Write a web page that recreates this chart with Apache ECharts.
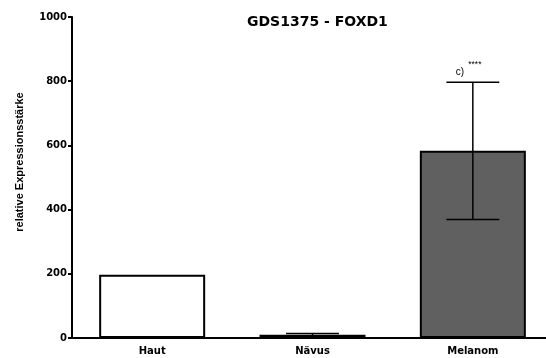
<!DOCTYPE html>
<html>
<head>
<meta charset="utf-8">
<script src="https://cdn.jsdelivr.net/npm/echarts@6/dist/echarts.min.js"></script>
<style>
  html, body { margin: 0; padding: 0; background: #fff; }
  #chart { width: 546px; height: 358px; }
</style>
</head>
<body>
<div id="chart"></div>
<script>
// groups and mean expression with SD
const categories = ['Haut', 'Nävus', 'Melanom'];
const means = [197, 10, 583];
const sds = [0, 4, 214];
const fills = ['#ffffff', '#9a9a9a', '#606060'];
const notes = ['', '', 'c)'];
const stars = ['', '', '****'];
const yTicks = { min: 0, max: 1000, step: 200 };

const chart = echarts.init(document.getElementById('chart'));

const errData = categories.map((c, i) => [i, means[i], sds[i]]);

const option = {
  animation: false,
  title: {
    text: 'GDS1375 - FOXD1',
    left: 247,
    top: 15,
    padding: 0,
    textStyle: { fontFamily: 'DejaVu Sans', fontWeight: 'bold', fontSize: 14, color: '#000' }
  },
  graphic: [{
    type: 'text',
    x: 20,
    y: 162,
    rotation: Math.PI / 2,
    style: {
      text: 'relative Expressionsstärke',
      font: 'bold 11px "Liberation Sans"',
      fill: '#000',
      align: 'center',
      verticalAlign: 'middle'
    }
  }],
  grid: { left: 72, width: 481, top: 17, bottom: 20, outerBoundsMode: 'none', containLabel: false },
  xAxis: {
    type: 'category',
    data: categories,
    axisLine: { lineStyle: { color: '#000', width: 2 } },
    axisTick: { alignWithLabel: true, length: 3, lineStyle: { color: '#000', width: 2 } },
    axisLabel: { margin: 8, color: '#000', fontFamily: 'DejaVu Sans', fontWeight: 'bold', fontSize: 10 }
  },
  yAxis: {
    type: 'value',
    min: yTicks.min,
    max: yTicks.max,
    interval: yTicks.step,
    splitLine: { show: false },
    axisLine: { show: true, lineStyle: { color: '#000', width: 2 } },
    axisTick: { show: true, length: 4, lineStyle: { color: '#000', width: 2 } },
    axisLabel: {
      margin: 5, color: '#000', fontFamily: 'DejaVu Sans', fontWeight: 'bold', fontSize: 10,
      formatter: v => String(v)
    }
  },
  series: [
    {
      type: 'bar',
      barWidth: 106,
      data: means.map((v, i) => ({
        value: v,
        itemStyle: { color: fills[i], borderColor: '#000', borderWidth: 2 }
      })),
      z: 2
    },
    {
      type: 'custom',
      z: 5,
      data: errData,
      renderItem: function (params, api) {
        const i = api.value(0);
        const m = api.value(1);
        const sd = api.value(2);
        const children = [];
        const half = api.size([1, 0])[0] * 0.165;
        const top = api.coord([i, m + sd]);
        const bot = api.coord([i, m - sd]);
        const style = { stroke: '#000', lineWidth: 1.5 };
        if (sd > 0) {
          children.push(
            { type: 'line', shape: { x1: top[0], y1: top[1], x2: bot[0], y2: bot[1] }, style: style },
            { type: 'line', shape: { x1: top[0] - half, y1: top[1], x2: top[0] + half, y2: top[1] }, style: style },
            { type: 'line', shape: { x1: bot[0] - half, y1: bot[1], x2: bot[0] + half, y2: bot[1] }, style: style }
          );
        }
        if (notes[i]) {
          children.push({
            type: 'text',
            x: top[0] - 13,
            y: top[1] - 5,
            style: { text: notes[i], font: '10px "Liberation Sans"', fill: '#000', align: 'center', verticalAlign: 'bottom' }
          });
          children.push({
            type: 'text',
            x: top[0] + 2,
            y: top[1] - 13,
            style: { text: stars[i], font: '8.5px "Liberation Sans"', fill: '#000', align: 'center', verticalAlign: 'bottom' }
          });
        }
        return { type: 'group', children: children };
      }
    }
  ]
};

chart.setOption(option);
</script>
</body>
</html>
